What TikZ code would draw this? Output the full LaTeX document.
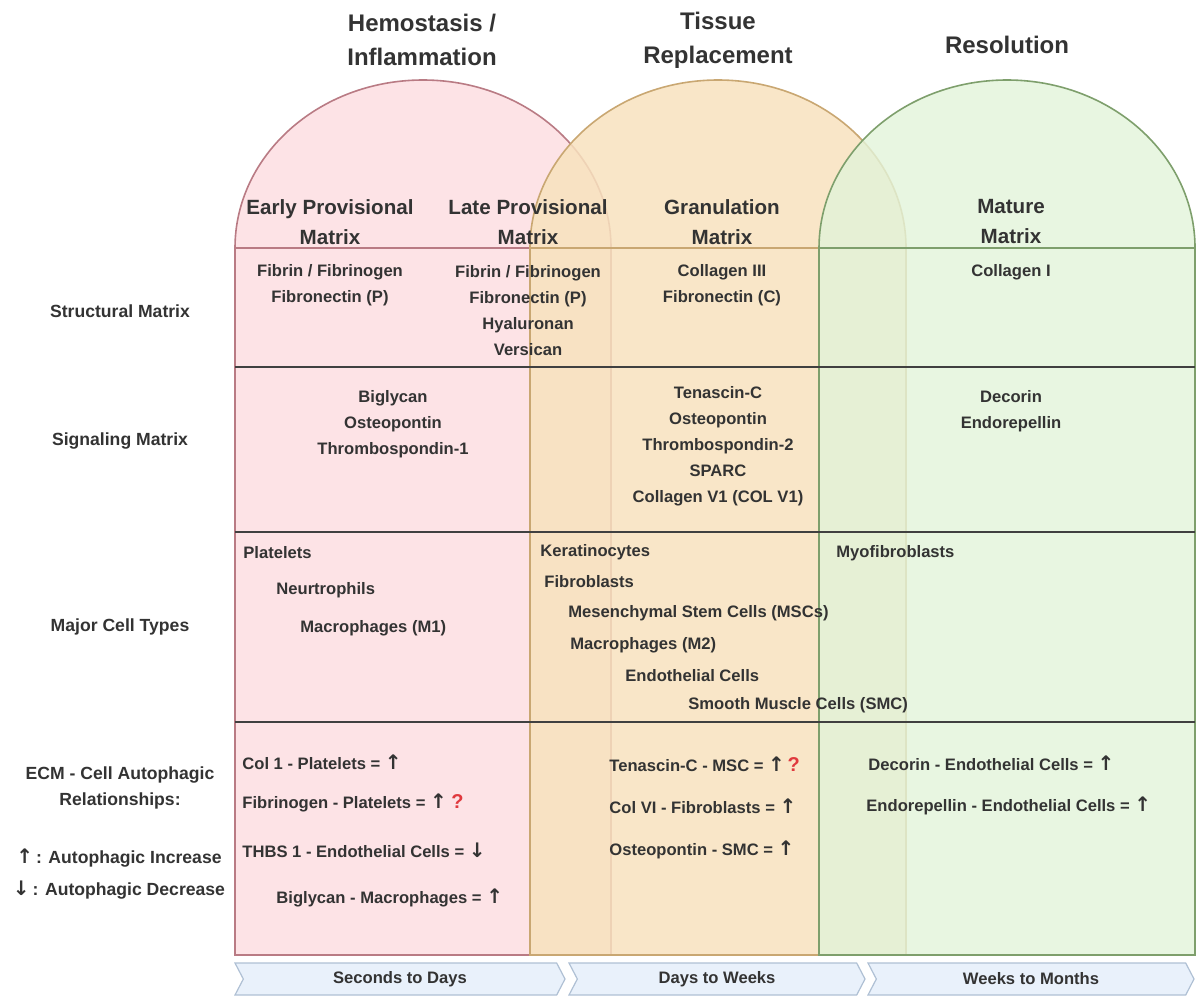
\documentclass[tikz,border=0pt]{standalone}
\usepackage{fontspec}
\setmainfont{Liberation Sans}
\newfontfamily\arrowfont{DejaVu Sans}
\usepackage{tikz}
\usetikzlibrary{shapes,arrows,positioning}

\definecolor{redfill}{HTML}{FDE3E6}
\definecolor{rededge}{HTML}{B97B84}
\definecolor{orangefill}{HTML}{F8E2BE}
\definecolor{orangeedge}{HTML}{C9A772}
\definecolor{greenfill}{HTML}{E2F4D9}
\definecolor{greenedge}{HTML}{7E9F6C}
\definecolor{rowline}{HTML}{404040}
\definecolor{txt}{HTML}{333333}
\definecolor{chevfill}{HTML}{E9F1FB}
\definecolor{chevedge}{HTML}{AFC0D4}
\definecolor{qmark}{HTML}{E0393E}

\newcommand{\incr}{{\arrowfont\bfseries\fontsize{10}{10}\selectfont ↑}}
\newcommand{\decr}{{\arrowfont\bfseries\fontsize{10}{10}\selectfont ↓}}
\newcommand{\unsure}{{\fontsize{10}{10}\selectfont\textcolor{qmark}{?}}}

\tikzset{
  phase/.style={font=\fontsize{12}{17}\selectfont\bfseries, text=txt, align=center},
  head/.style={font=\fontsize{10.3}{15}\selectfont\bfseries, text=txt, align=center},
  item/.style={font=\fontsize{8.3}{13}\selectfont\bfseries, text=txt, align=center},
  cell/.style={item, anchor=west, inner xsep=0pt},
  rowlabel/.style={item, font=\fontsize{8.8}{13}\selectfont\bfseries},
  timebox/.style={shape=signal, signal from=west, signal to=east,
    signal pointer angle=125, fill=chevfill, draw=chevedge, line width=0.6pt,
    minimum height=16pt, font=\fontsize{8.3}{10}\selectfont\bfseries, text=txt}
}

\begin{document}
\begin{tikzpicture}[x=0.5pt,y=-0.5pt]
\useasboundingbox (0,0) rectangle (1197,996);

% phase arches
\draw[rededge, line width=0.8pt, fill=redfill] (235,955) -- (235,248)
  arc[start angle=180, end angle=360, x radius=188, y radius=168] -- (611,955) -- cycle;
\draw[rededge, line width=0.8pt] (235,248) -- (611,248);
\draw[orangeedge, line width=0.8pt, fill=orangefill, fill opacity=0.85] (530,955) -- (530,248)
  arc[start angle=180, end angle=360, x radius=188, y radius=168] -- (906,955) -- cycle;
\draw[orangeedge, line width=0.8pt] (530,248) -- (906,248);
\draw[greenedge, line width=0.8pt, fill=greenfill, fill opacity=0.8] (819,955) -- (819,248)
  arc[start angle=180, end angle=360, x radius=188, y radius=168] -- (1195,955) -- cycle;
\draw[greenedge, line width=0.8pt] (819,248) -- (1195,248);

% row dividers
\foreach \yy in {367,532,722}
  \draw[rowline, line width=1pt] (235,\yy) -- (1195,\yy);

% phase titles
\node[phase] (hemo) at (422,40) {Hemostasis /\\Inflammation};
\node[phase] (tissue) at (718,40) {Tissue\\Replacement};
\node[phase] (resol) at (1007,45) {Resolution};

% matrix headers
\node[head] (early) at (330,222) {Early Provisional\\Matrix};
\node[head] (late) at (528,222) {Late Provisional\\Matrix};
\node[head] (gran) at (722,222) {Granulation\\Matrix};
\node[head] (mature) at (1011,222) {Mature\\Matrix};

% row labels
\node[rowlabel] (lstruct) at (120,311) {Structural Matrix};
\node[rowlabel] (lsignal) at (120,441) {Signaling Matrix};
\node[rowlabel] (lcells) at (120,627) {Major Cell Types};
\node[rowlabel] (lecm) at (120,788) {ECM - Cell Autophagic\\Relationships:};
\node[rowlabel] (linc) at (119,858) {\incr\,: Autophagic Increase};
\node[rowlabel] (ldec) at (119,890) {\decr\,: Autophagic Decrease};

% structural matrix
\node[item] (s1) at (330,285) {Fibrin / Fibrinogen\\Fibronectin (P)};
\node[item] (s2) at (528,311) {Fibrin / Fibrinogen\\Fibronectin (P)\\Hyaluronan\\Versican};
\node[item] (s3) at (722,285) {Collagen III\\Fibronectin (C)};
\node[item] (s4) at (1011,272) {Collagen I};

% signaling matrix
\node[item] (g1) at (393,424) {Biglycan\\Osteopontin\\Thrombospondin-1};
\node[item] (g2) at (718,446) {Tenascin-C\\Osteopontin\\Thrombospondin-2\\SPARC\\Collagen V1 (COL V1)};
\node[item] (g3) at (1011,411) {Decorin\\Endorepellin};

% major cell types
\node[cell] (c1) at (243,553) {Platelets};
\node[cell] (c2) at (276,590) {Neurtrophils};
\node[cell] (c3) at (300,628) {Macrophages (M1)};
\node[cell] (c4) at (540,552) {Keratinocytes};
\node[cell] (c5) at (544,582) {Fibroblasts};
\node[cell] (c6) at (568,613) {Mesenchymal Stem Cells (MSCs)};
\node[cell] (c7) at (570,645) {Macrophages (M2)};
\node[cell] (c8) at (625,676) {Endothelial Cells};
\node[cell] (c9) at (688,705) {Smooth Muscle Cells (SMC)};
\node[cell] (c10) at (836,553) {Myofibroblasts};

% ECM - cell relationships
\node[cell] (r1) at (242,762) {Col 1 - Platelets = \incr};
\node[cell] (r2) at (242,803) {Fibrinogen - Platelets = \incr\ \unsure};
\node[cell] (r3) at (242,850) {THBS 1 - Endothelial Cells = \decr};
\node[cell] (r4) at (276,898) {Biglycan - Macrophages = \incr};
\node[cell] (r5) at (609,764) {Tenascin-C - MSC = \incr\,\unsure};
\node[cell] (r6) at (609,806) {Col VI - Fibroblasts = \incr};
\node[cell] (r7) at (609,850) {Osteopontin - SMC = \incr};
\node[cell] (r8) at (868,763) {Decorin - Endothelial Cells = \incr};
\node[cell] (r9) at (866,806) {Endorepellin - Endothelial Cells = \incr};

% time line
\node[timebox, minimum width=165pt] (t1) at (400,979) {Seconds to Days};
\node[timebox, minimum width=148pt] (t2) at (717,979) {Days to Weeks};
\node[timebox, minimum width=163pt] (t3) at (1031,979) {Weeks to Months};
\end{tikzpicture}
\end{document}
